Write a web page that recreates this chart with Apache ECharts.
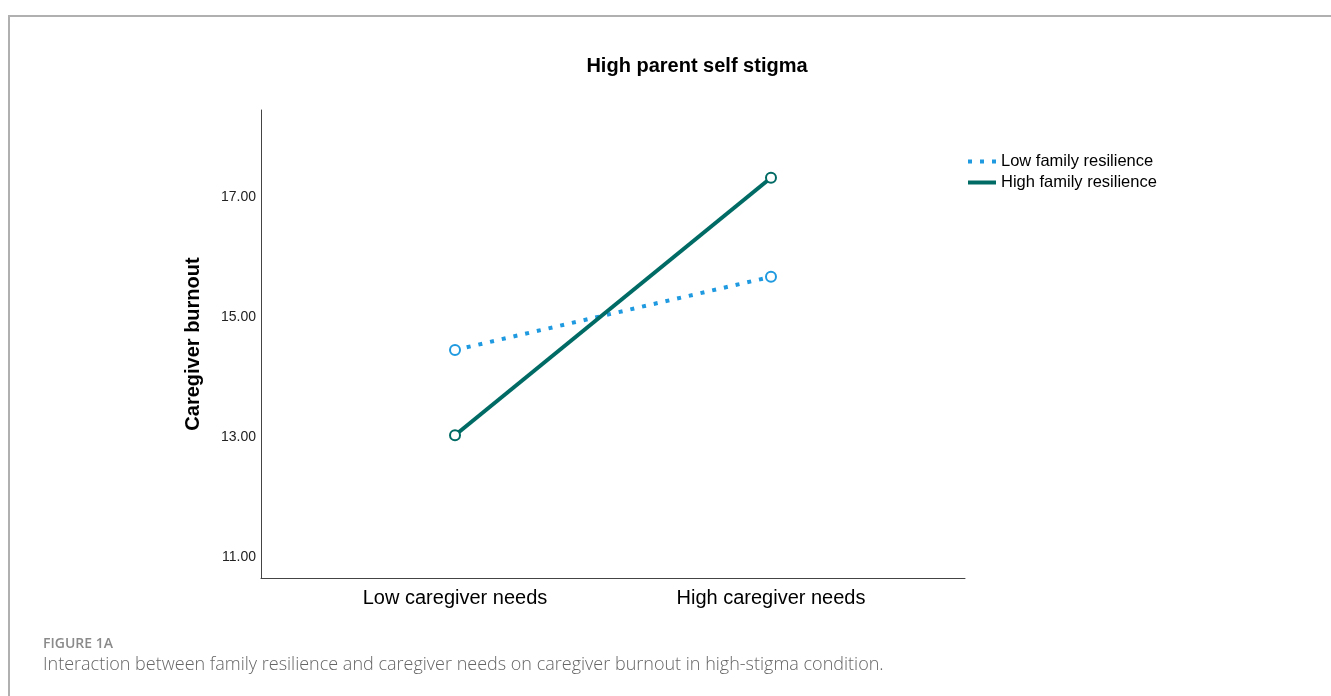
<!DOCTYPE html>
<html><head><meta charset="utf-8">
<script src="https://cdn.jsdelivr.net/npm/echarts@6/dist/echarts.min.js"></script>
<style>html,body{margin:0;padding:0;background:#fff}#c{width:1331px;height:696px}</style>
</head><body><div id="c"></div>
<script>
const categories = ["Low caregiver needs", "High caregiver needs"];
const lowResilience = [14.45, 15.67];
const highResilience = [13.03, 17.32];
const yTicks = [11, 13, 15, 17];
const seriesNames = ["Low family resilience", "High family resilience"];

const BLUE = '#1f9ae0', TEAL = '#006a64';
const chart = echarts.init(document.getElementById('c'));
const toPts = arr => arr.map((v, i) => [i, v]);
chart.setOption({
  animation: false,
  backgroundColor: '#fff',
  title: {
    text: 'High parent self stigma', left: 692, top: 51, textAlign: 'center',
    textStyle: {fontFamily: 'Liberation Sans, Arial', fontSize: 20, fontWeight: 'bold', color: '#000'}
  },
  legend: {
    left: 963, top: 148, orient: 'vertical', itemGap: 4, itemWidth: 28, itemHeight: 4,
    textStyle: {fontFamily: 'Liberation Sans, Arial', fontSize: 16.5, lineHeight: 17, color: '#000'},
    data: [
      {name: seriesNames[0], icon: 'path://M0,0h4v4h-4z M12,0h4v4h-4z M24,0h4v4h-4z', itemStyle: {color: BLUE}},
      {name: seriesNames[1], icon: 'rect', itemStyle: {color: TEAL}}
    ]
  },
  grid: {left: 261, right: 366, top: 110, bottom: 118},
  xAxis: {
    type: 'value', min: -0.614, max: 1.614,
    axisLine: {show: true, onZero: false, lineStyle: {color: '#444', width: 1}},
    axisTick: {show: false}, splitLine: {show: false},
    axisLabel: {customValues: [0, 1], formatter: v => categories[Math.round(v)] || '',
      fontFamily: 'Liberation Sans, Arial', fontSize: 20, color: '#000', margin: 10}
  },
  yAxis: {
    type: 'value', min: 10.65, max: 18.45,
    name: 'Caregiver burnout', nameLocation: 'middle', nameGap: 58, nameRotate: 90, nameMoveOverlap: false,
    nameTextStyle: {fontFamily: 'Liberation Sans, Arial', fontSize: 20, fontWeight: 'bold', color: '#000'},
    axisLine: {show: true, onZero: false, lineStyle: {color: '#444', width: 1}},
    axisTick: {show: false}, splitLine: {show: false},
    axisLabel: {customValues: yTicks, formatter: v => v.toFixed(2),
      fontFamily: 'Liberation Sans, Arial', fontSize: 14, color: '#222', margin: 5}
  },
  series: [
    {name: seriesNames[0], type: 'line', data: toPts(lowResilience), color: BLUE,
     lineStyle: {width: 4, type: [4, 8], cap: 'butt', color: BLUE},
     symbol: 'emptyCircle', symbolSize: 10, itemStyle: {color: BLUE, borderWidth: 1.5}},
    {name: seriesNames[1], type: 'line', data: toPts(highResilience), color: TEAL,
     lineStyle: {width: 4, color: TEAL},
     symbol: 'emptyCircle', symbolSize: 10, itemStyle: {color: TEAL, borderWidth: 1.5}}
  ],
  graphic: [
    {type: 'polyline', shape: {points: [[9, 696], [9, 16], [1331, 16]]}, style: {stroke: '#b0b0b0', lineWidth: 2, fill: null}},
    {type: 'text', left: 43, top: 637, style: {text: 'FIGURE 1A', font: '600 14px "Open Sans", Lato', fill: '#8a8a8a'}},
    {type: 'text', left: 43, top: 656, style: {text: 'Interaction between family resilience and caregiver needs on caregiver burnout in high-stigma condition.', font: '300 18px "Open Sans", Lato', fill: '#666'}}
  ]
});
</script></body></html>
